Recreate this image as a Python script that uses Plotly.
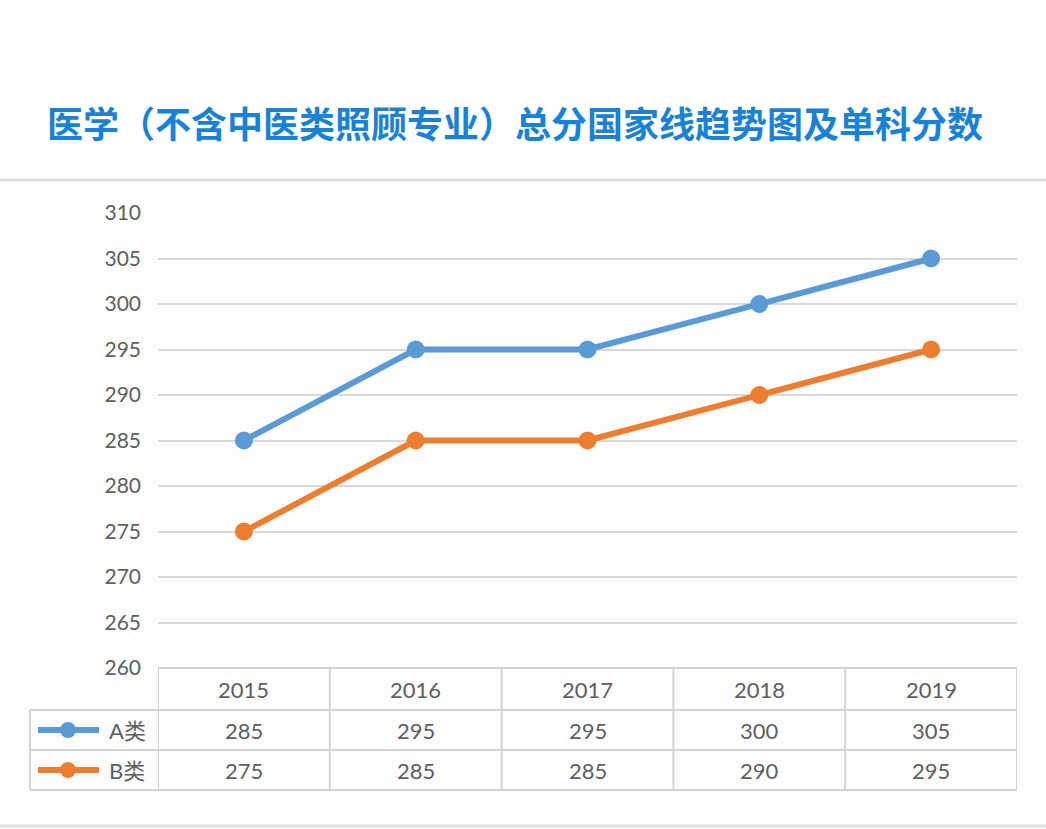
import plotly.graph_objects as go

years = ["2015", "2016", "2017", "2018", "2019"]
series_names = ["A类", "B类"]
a_values = [285, 295, 295, 300, 305]
b_values = [275, 285, 285, 290, 295]
y_ticks = [260, 265, 270, 275, 280, 285, 290, 295, 300, 305, 310]
title_text = "医学（不含中医类照顾专业）总分国家线趋势图及单科分数"

W, H = 1046, 829
colors = ["#5B9BD5", "#ED7D31"]
grid_c = "#D9D9D9"
txt_c = "#5F5F5F"
font_fam = "Lato, 'Noto Sans CJK SC', sans-serif"

def px(x):
    return x / W

def py(y):
    return 1 - y / H

plot_l, plot_r, plot_t, plot_b = 158, 1017, 213, 668
row_edges = [668, 710, 750, 790]
legend_l = 30

fig = go.Figure()
for name, vals, c in zip(series_names, [a_values, b_values], colors):
    fig.add_trace(go.Scatter(
        x=list(range(len(years))), y=vals, mode="lines+markers", name=name,
        line=dict(color=c, width=6), marker=dict(color=c, size=18),
        showlegend=False, hoverinfo="skip"))

shapes = []
shapes.append(dict(type="rect", xref="paper", yref="paper", x0=0, x1=1,
                   y0=py(826), y1=py(180), fillcolor="#FDFDFD", line_width=0, layer="below"))
for yy in (180, 826):
    shapes.append(dict(type="line", xref="paper", yref="paper", x0=0, x1=1,
                       y0=py(yy), y1=py(yy), line=dict(color="#DDDDDD", width=3)))

tl = dict(color="#D4D4D4", width=2)
shapes.append(dict(type="line", xref="paper", yref="paper", x0=px(plot_l), x1=px(plot_r),
                   y0=py(row_edges[0]), y1=py(row_edges[0]), line=tl))
for yy in row_edges[1:]:
    shapes.append(dict(type="line", xref="paper", yref="paper", x0=px(legend_l), x1=px(plot_r),
                       y0=py(yy), y1=py(yy), line=tl))
for i in range(len(years) + 1):
    shapes.append(dict(type="line", xref="x", yref="paper", x0=i - 0.5, x1=i - 0.5,
                       y0=py(row_edges[-1]), y1=py(row_edges[0]), line=tl))
shapes.append(dict(type="line", xref="paper", yref="paper", x0=px(legend_l), x1=px(legend_l),
                   y0=py(row_edges[-1]), y1=py(row_edges[1]), line=tl))

annotations = []
annotations.append(dict(text="<b>" + title_text + "</b>", xref="paper", yref="paper",
                        x=px(515), y=py(122), showarrow=False,
                        font=dict(size=36, color="#1A82D6", family="'Noto Sans CJK SC', sans-serif"),
                        xanchor="center", yanchor="middle"))

cell_font = dict(size=22, color=txt_c, family=font_fam)
for i, yr in enumerate(years):
    annotations.append(dict(text=yr, xref="x", yref="paper", x=i,
                            y=py((row_edges[0] + row_edges[1]) / 2), showarrow=False,
                            font=cell_font, xanchor="center", yanchor="middle"))
for r, vals in enumerate([a_values, b_values]):
    yc = py((row_edges[r + 1] + row_edges[r + 2]) / 2)
    for i, v in enumerate(vals):
        annotations.append(dict(text=str(v), xref="x", yref="paper", x=i, y=yc, showarrow=False,
                                font=cell_font, xanchor="center", yanchor="middle"))
    c = colors[r]
    shapes.append(dict(type="line", xref="paper", yref="paper", x0=px(38), x1=px(99),
                       y0=yc, y1=yc, line=dict(color=c, width=6)))
    shapes.append(dict(type="circle", xref="paper", yref="paper", xsizemode="pixel", ysizemode="pixel",
                       xanchor=px(68), yanchor=yc, x0=-8, x1=8, y0=-8, y1=8,
                       fillcolor=c, line=dict(color=c, width=0)))
    annotations.append(dict(text=series_names[r], xref="paper", yref="paper", x=px(107), y=yc,
                            showarrow=False, xanchor="left", yanchor="middle",
                            font=dict(size=22, color=txt_c, family=font_fam)))

fig.update_layout(
    width=W, height=H, margin=dict(l=0, r=0, t=0, b=0, pad=0, autoexpand=False),
    paper_bgcolor="white", plot_bgcolor="rgba(0,0,0,0)",
    shapes=shapes, annotations=annotations,
    xaxis=dict(domain=[px(plot_l), px(plot_r)], range=[-0.5, len(years) - 0.5],
               showgrid=False, zeroline=False, showticklabels=False, showline=False, fixedrange=True),
    yaxis=dict(domain=[py(plot_b), py(plot_t)], range=[260, 310], tickvals=y_ticks,
               showgrid=True, gridcolor=grid_c, gridwidth=2, zeroline=False, showline=False,
               ticks="", ticklabelstandoff=16,
               tickfont=dict(size=21, color=txt_c, family=font_fam), fixedrange=True),
)

fig.write_html("out.html", config={"displayModeBar": False},
               post_script="document.body.style.margin='0';document.body.style.padding='0';")
